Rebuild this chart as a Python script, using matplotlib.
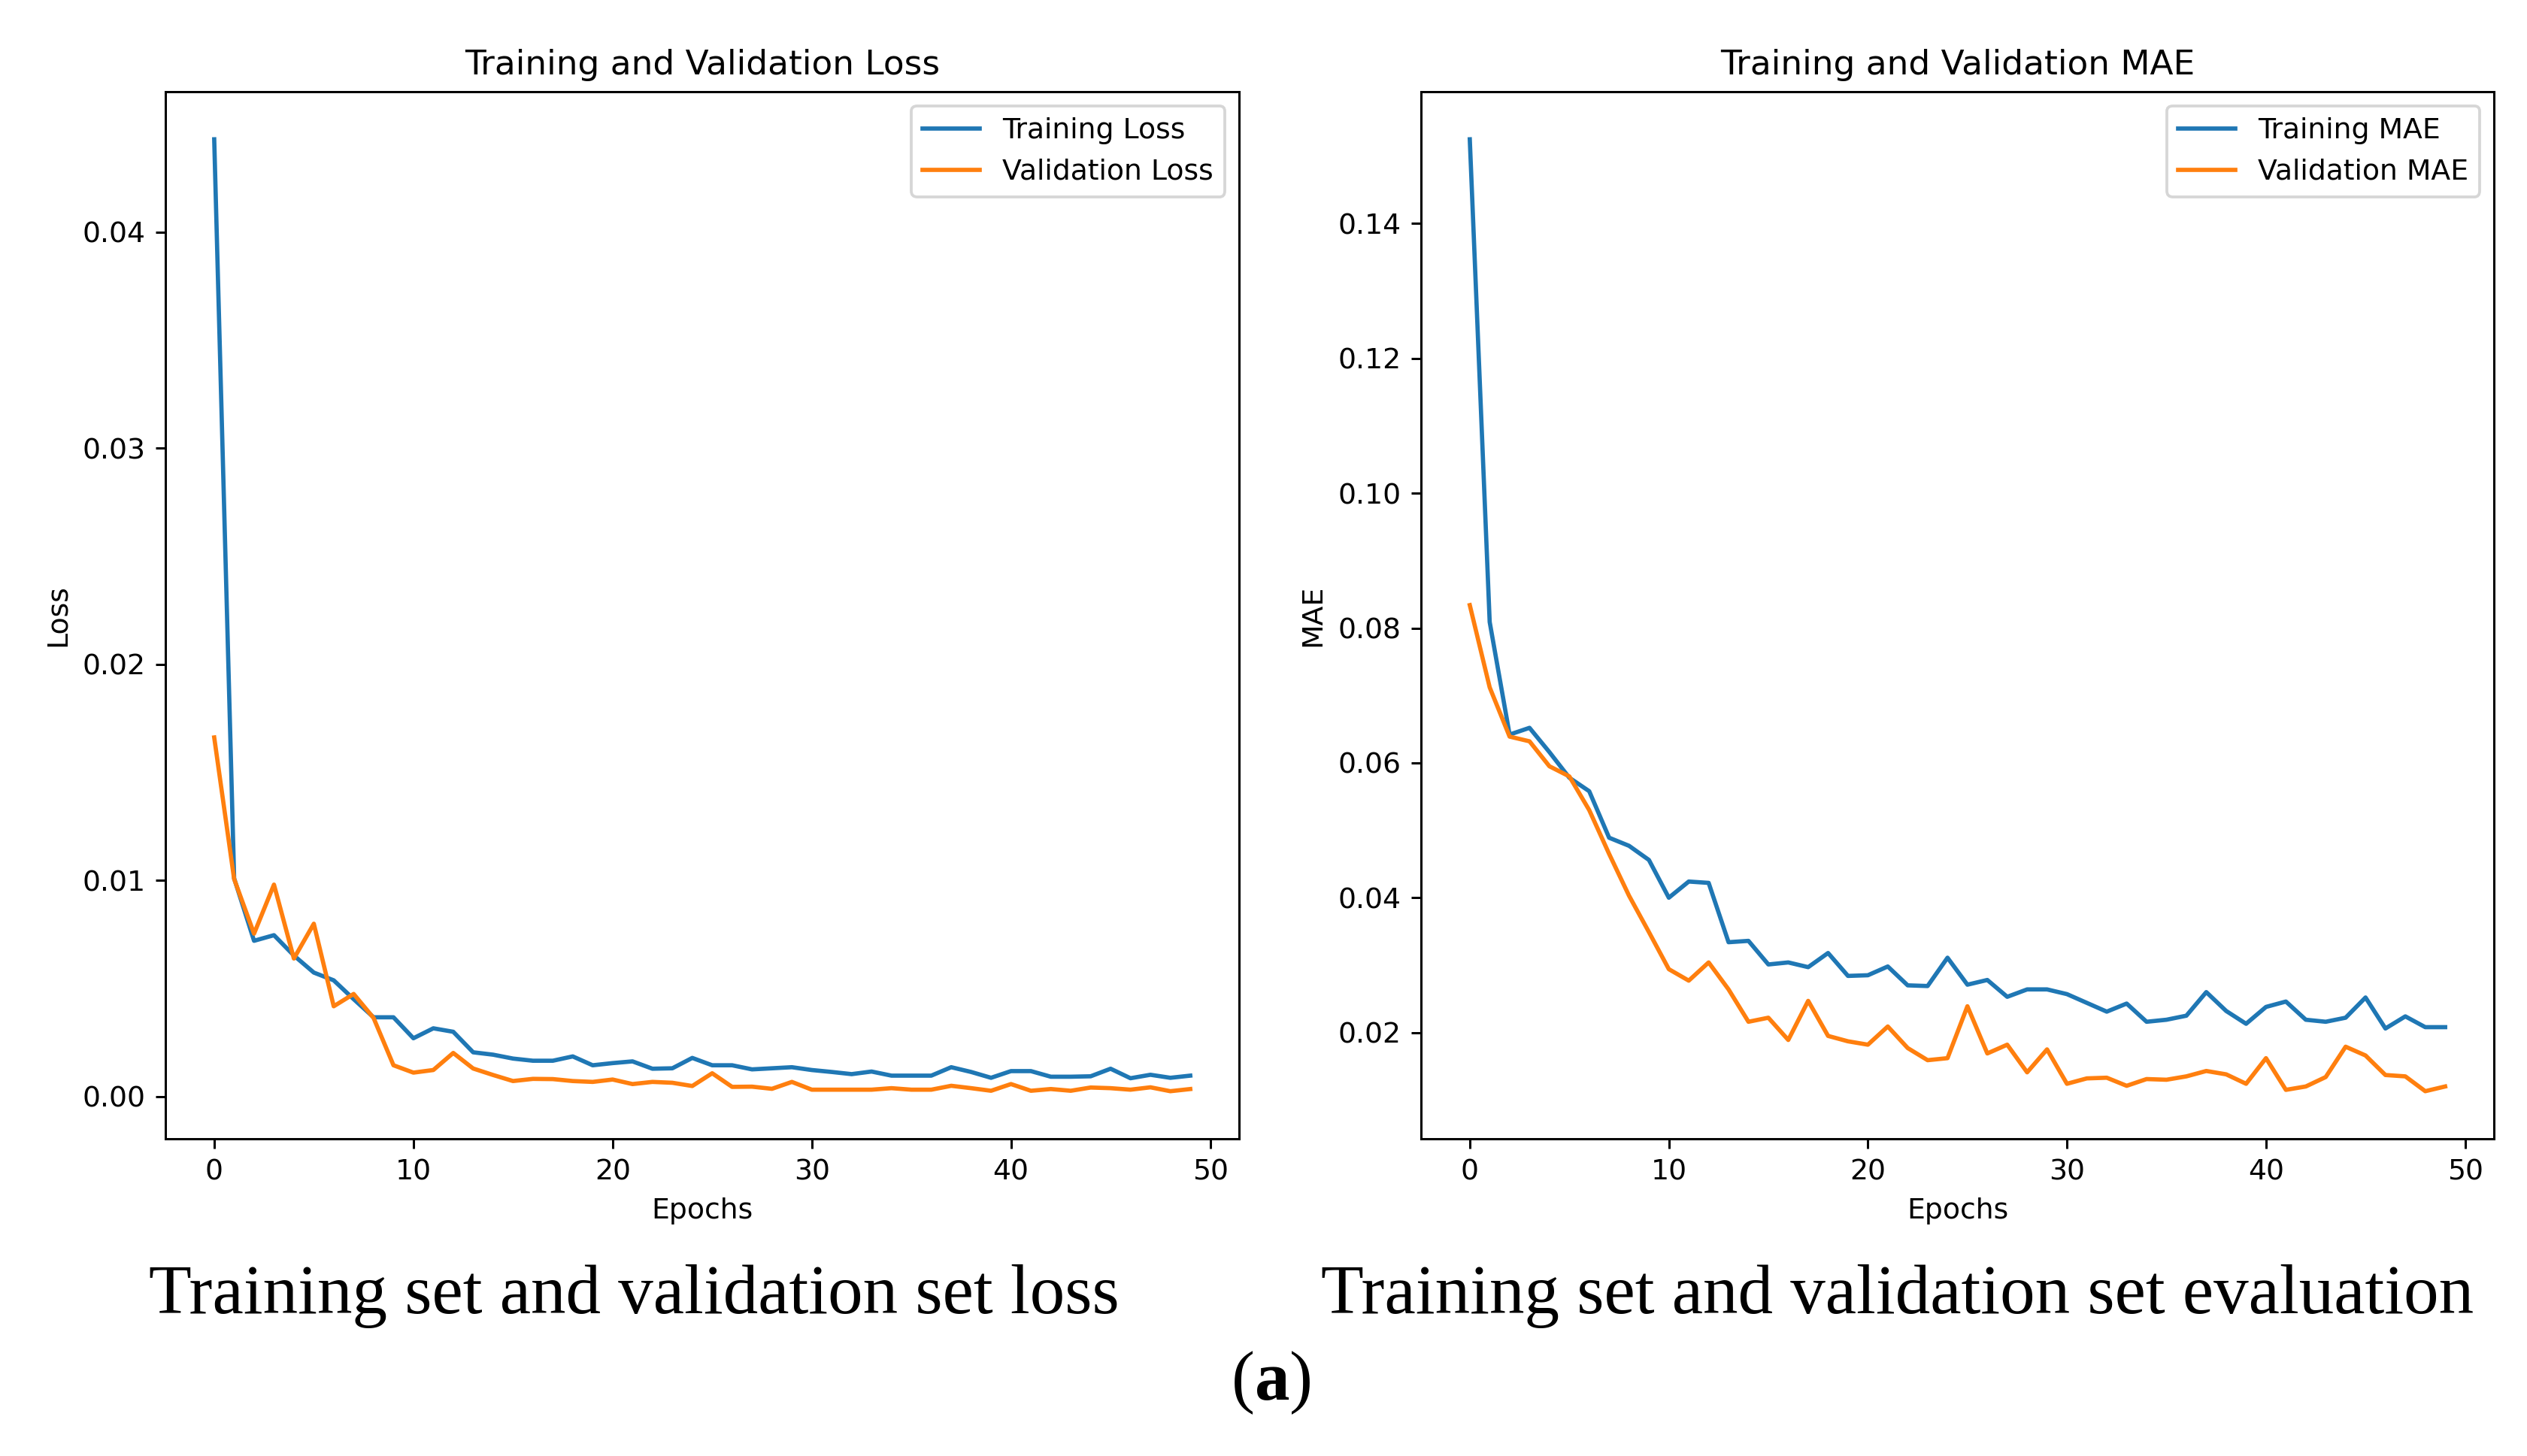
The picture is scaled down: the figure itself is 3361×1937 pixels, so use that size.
import matplotlib
matplotlib.use("Agg")
import matplotlib.pyplot as plt
import matplotlib.transforms as mtransforms

epochs = list(range(50))

train_loss = [0.0443, 0.0101, 0.00721, 0.00747, 0.00653, 0.00574, 0.00538, 0.00451, 0.00367, 0.00367,
              0.0027, 0.00316, 0.0030, 0.00205, 0.00194, 0.00176, 0.00166, 0.00166, 0.00186, 0.00145,
              0.00155, 0.00163, 0.00129, 0.00131, 0.00179, 0.00145, 0.00145, 0.00126, 0.00131, 0.00136,
              0.00123, 0.00114, 0.00104, 0.00116, 0.00097, 0.00097, 0.00097, 0.00136, 0.00114, 0.00087,
              0.00118, 0.00118, 0.00092, 0.00092, 0.00094, 0.00129, 0.00085, 0.00101, 0.00087, 0.00097]
val_loss = [0.01662, 0.01007, 0.00754, 0.00981, 0.00639, 0.0080, 0.00418, 0.00475, 0.00364, 0.00145,
            0.00111, 0.00123, 0.00202, 0.0013, 0.0010, 0.00072, 0.00082, 0.00081, 0.00072, 0.00068,
            0.00079, 0.00058, 0.00068, 0.00064, 0.00049, 0.00108, 0.00045, 0.00046, 0.00036, 0.00068,
            0.00032, 0.00032, 0.00032, 0.00032, 0.00039, 0.00032, 0.00032, 0.0005, 0.00039, 0.00027,
            0.00058, 0.00027, 0.00035, 0.00027, 0.00042, 0.00039, 0.00032, 0.00043, 0.00025, 0.00035]

train_mae = [0.1525, 0.0809, 0.0642, 0.0652, 0.0616, 0.0578, 0.0558, 0.0489, 0.0477, 0.0456,
             0.0400, 0.0424, 0.0422, 0.0334, 0.0336, 0.0301, 0.0304, 0.0297, 0.0318, 0.0284,
             0.0285, 0.0298, 0.0270, 0.0269, 0.0311, 0.0271, 0.0278, 0.0253, 0.0264, 0.0264,
             0.0257, 0.0244, 0.0231, 0.0243, 0.0216, 0.0219, 0.0225, 0.0260, 0.0232, 0.0213,
             0.0238, 0.0246, 0.0219, 0.0216, 0.0222, 0.0252, 0.0206, 0.0224, 0.0208, 0.0208]
val_mae = [0.0834, 0.0712, 0.0639, 0.0632, 0.0595, 0.0580, 0.0530, 0.0465, 0.0403, 0.0349,
           0.0294, 0.0277, 0.0304, 0.0264, 0.0216, 0.0222, 0.0189, 0.0247, 0.0195, 0.0187,
           0.0182, 0.0209, 0.0177, 0.0159, 0.0162, 0.0239, 0.0169, 0.0182, 0.0141, 0.0175,
           0.0124, 0.0132, 0.0133, 0.0121, 0.0131, 0.0130, 0.0135, 0.0143, 0.0138, 0.0124,
           0.0162, 0.0115, 0.0120, 0.0134, 0.0179, 0.0166, 0.0137, 0.0135, 0.0113, 0.0120]

titles = ["Training and Validation Loss", "Training and Validation MAE"]
ylabels = ["Loss", "MAE"]
legend_labels = [["Training Loss", "Validation Loss"], ["Training MAE", "Validation MAE"]]
captions = ["Training set and validation set loss", "Training set and validation set evaluation"]

S = 2.72
plt.rcParams.update({
    "font.family": "DejaVu Sans",
    "font.size": 10 * S,
    "axes.linewidth": 0.8 * S,
    "xtick.major.size": 3.5 * S,
    "ytick.major.size": 3.5 * S,
    "xtick.major.width": 0.8 * S,
    "ytick.major.width": 0.8 * S,
    "xtick.major.pad": 3.5 * S,
    "ytick.major.pad": 3.5 * S,
    "axes.titlepad": 6 * S,
    "axes.labelpad": 4 * S,
    "lines.linewidth": 1.5 * S,
    "legend.fontsize": 10 * S,
    "axes.titlesize": 12 * S,
    "axes.labelsize": 10 * S,
    "xtick.labelsize": 10 * S,
    "ytick.labelsize": 10 * S,
    "patch.linewidth": 1.0 * S,
})

W, H = 3361, 1937
fig = plt.figure(figsize=(W / 100, H / 100), dpi=100)

axes_px = [(220, 1648), (1890, 3317)]
top_px, bot_px = 122, 1515
series = [(train_loss, val_loss), (train_mae, val_mae)]

for i, ((l, r), (tr, va)) in enumerate(zip(axes_px, series)):
    ax = fig.add_axes([l / W, 1 - bot_px / H, (r - l) / W, (bot_px - top_px) / H])
    ax.plot(epochs, tr, color="#1f77b4", label=legend_labels[i][0])
    ax.plot(epochs, va, color="#ff7f0e", label=legend_labels[i][1])
    ax.set_title(titles[i])
    ax.set_xlabel("Epochs")
    ax.set_ylabel(ylabels[i])
    ax.legend(loc="upper right")

serif = ["Liberation Serif", "DejaVu Serif"]
FS = 67
cap_x = [843, 2524]
for cx, cap in zip(cap_x, captions):
    fig.text(cx / W, 1 - 1747 / H, cap, ha="center", va="baseline",
             fontsize=FS, family=serif)

ident = mtransforms.IdentityTransform()
base_y = H - 1862
t1 = fig.text(1638, base_y, "(", ha="left", va="baseline", fontsize=FS, family=serif, transform=ident)
fig.canvas.draw()
r = fig.canvas.get_renderer()
bb1 = t1.get_window_extent(r)
t2 = fig.text(bb1.x1, base_y, "a", ha="left", va="baseline", fontsize=FS, family=serif,
              weight="bold", transform=ident)
bb2 = t2.get_window_extent(r)
t3 = fig.text(bb2.x1, base_y, ")", ha="left", va="baseline", fontsize=FS, family=serif, transform=ident)

fig.savefig("out.png", dpi=100)
